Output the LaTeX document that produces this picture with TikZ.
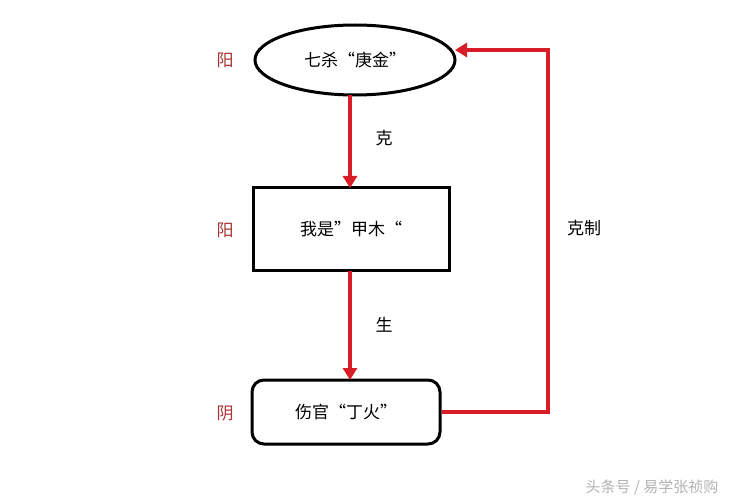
\documentclass[tikz,border=0pt]{standalone}
\usepackage{fontspec}
\newfontfamily\cjk{Noto Sans CJK SC}
\usetikzlibrary{shapes.geometric,arrows.meta}
\begin{document}
\begin{tikzpicture}[x=1pt,y=-1pt,
  box/.style={draw=black,line width=3pt,font=\cjk\fontsize{17}{20}\selectfont},
  redarr/.style={draw={rgb,255:red,215;green,30;blue,40},line width=3.5pt,-{Triangle[length=12pt,width=14pt]}},
  yy/.style={text={rgb,255:red,170;green,50;blue,50},font=\cjk\fontsize{17}{20}\selectfont},
  lbl/.style={font=\cjk\fontsize{17}{20}\selectfont}]
\useasboundingbox (0,0) rectangle (750,500);
\node[box,ellipse,minimum width=200pt,minimum height=70pt] (qs) at (355,60) {七杀“庚金”};
\node[box,rectangle,minimum width=196pt,minimum height=82pt] (wo) at (351,229) {我是”甲木“};
\node[box,rectangle,rounded corners=12pt,minimum width=188pt,minimum height=64pt] (sg) at (346,412) {伤官“丁火”};
\node[yy] (y1) at (225,60) {阳};
\node[yy] (y2) at (225,230) {阳};
\node[yy] (y3) at (225,413) {阴};
\draw[redarr] (350,95) -- (350,188);
\draw[redarr] (350,271) -- (350,380);
\coordinate (c1) at (548,412);
\coordinate (c2) at (548,50);
\draw[redarr] (sg.east |- 0,412) -- (c1) -- (c2) -- (455,50);
\node[lbl] (k) at (384,138) {克};
\node[lbl] (s) at (384,325) {生};
\node[lbl] (kz) at (584,228) {克制};
\node[text=black!30,font=\cjk\fontsize{15}{18}\selectfont] (wm) at (652,487) {头条号 / 易学张祯购};
\end{tikzpicture}
\end{document}
